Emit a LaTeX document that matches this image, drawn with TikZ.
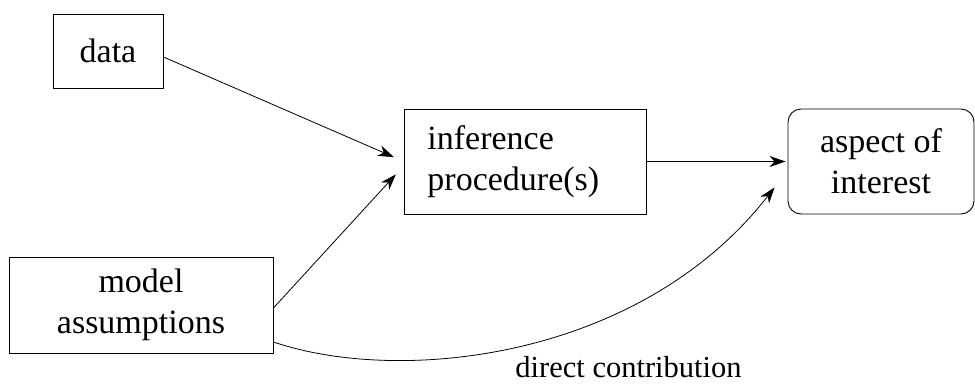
\documentclass[tikz,border=0pt]{standalone}
\usepackage{fontspec}
\setmainfont{Liberation Serif}
\usetikzlibrary{arrows.meta,calc}

\begin{document}
\begin{tikzpicture}[x=1pt,y=-1pt,
  every node/.style={font=\fontsize{34}{41}\selectfont},
  box/.style={draw, line width=0.9pt, inner sep=0pt, align=center},
  link/.style={line width=0.8pt, -{Stealth[length=16pt,width=11pt,inset=5pt]}},
  note/.style={font=\fontsize{30.5}{36}\selectfont, inner sep=0pt}
]
\useasboundingbox (0,0) rectangle (975,386);

% boxes
\node[box, minimum width=110pt, minimum height=74pt] (data) at (108,51) {data};
\node[box, anchor=west, text width=196pt, inner xsep=23pt, align=left,
      minimum height=105pt] (inf) at (404,161.5) {inference\\procedure(s)};
\node[box, rounded corners=13pt, minimum width=186pt, minimum height=105pt]
      (aspect) at (881,161.5) {aspect of\\interest};
\node[box, minimum width=264pt, minimum height=96pt] (model) at (141,305) {model\\assumptions};

% connectors
\draw[link, shorten >=11pt] ([yshift=-6pt]data.east) -- (inf.west);
\draw[link, shorten >=12pt] ([yshift=-3pt]model.east) -- ([yshift=-4pt]inf.west);
\draw[link, shorten >=2pt] (inf.east) -- (aspect.west);

\coordinate (tipc) at ($(aspect.south west)+(-13,-27)$);
\draw[link] ([yshift=-37pt]model.east) .. controls (400,385) and (640,360) .. (tipc);

\node[note, anchor=base] (dc) at (628.5,377) {direct contribution};
\end{tikzpicture}
\end{document}
